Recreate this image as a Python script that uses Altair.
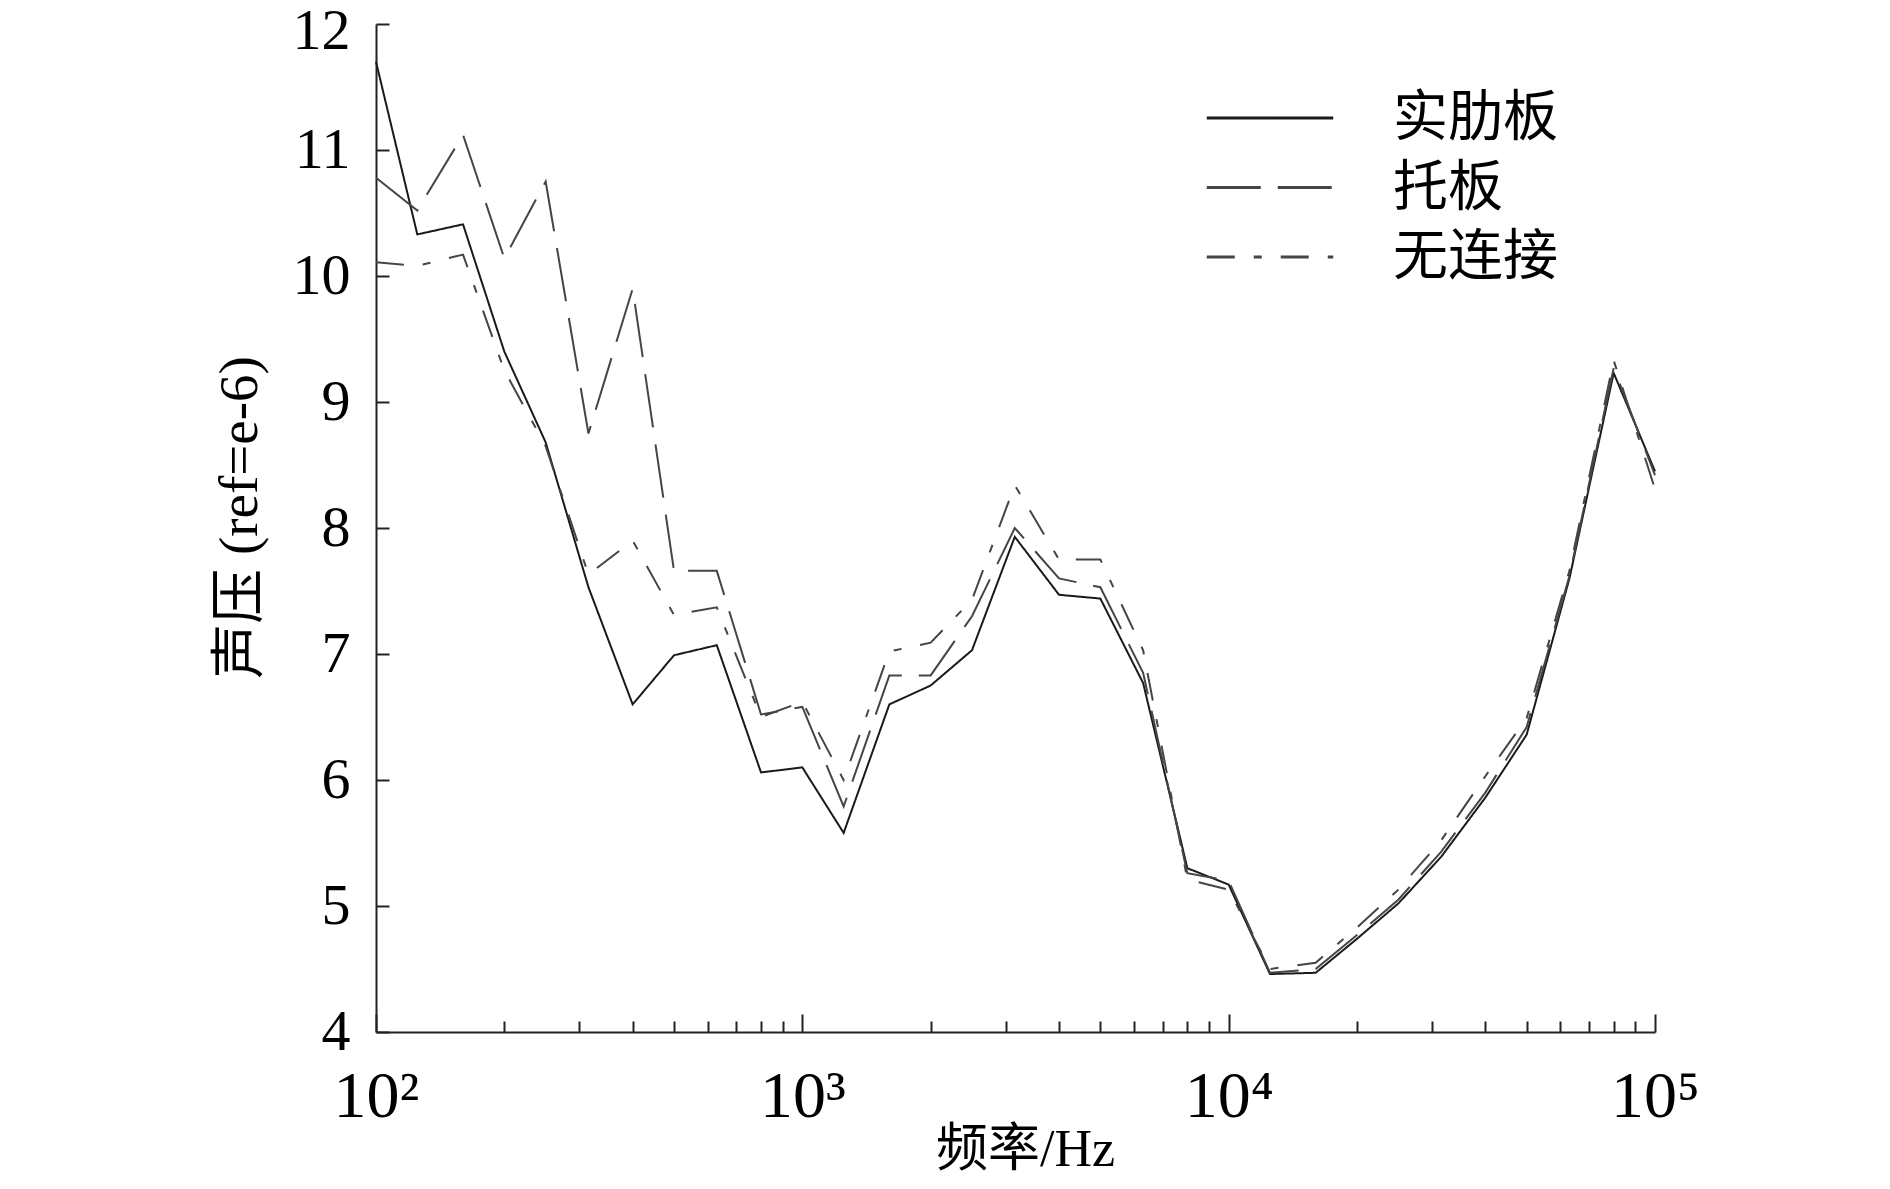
import altair as alt
import pandas as pd

# ---- data ----
freq = [100, 125, 160, 200, 250, 315, 400, 500, 630, 800, 1000, 1250, 1600, 2000,
        2500, 3150, 4000, 5000, 6300, 8000, 10000, 12500, 16000, 20000, 25000,
        31500, 40000, 50000, 63000, 80000, 100000]

solid_rib = [11.70, 10.33, 10.41, 9.40, 8.68, 7.53, 6.60, 6.99, 7.07, 6.06, 6.10,
             5.58, 6.60, 6.75, 7.03, 7.93, 7.47, 7.44, 6.77, 5.30, 5.17, 4.46,
             4.47, 4.74, 5.02, 5.39, 5.86, 6.36, 7.60, 9.23, 8.45]

bracket = [10.78, 10.52, 11.12, 10.14, 10.75, 8.75, 9.90, 7.66, 7.66, 6.52, 6.58,
           5.79, 6.83, 6.83, 7.30, 8.00, 7.60, 7.53, 6.85, 5.26, 5.20, 4.47,
           4.50, 4.77, 5.05, 5.43, 5.90, 6.42, 7.62, 9.27, 8.42]

no_conn = [10.11, 10.08, 10.17, 9.25, 8.65, 7.63, 7.90, 7.31, 7.37, 6.50, 6.62,
           6.00, 7.02, 7.09, 7.43, 8.34, 7.75, 7.75, 7.03, 5.21, 5.13, 4.50,
           4.55, 4.83, 5.13, 5.52, 6.03, 6.49, 7.66, 9.33, 8.31]

series_names = ["实肋板", "托板", "无连接"]
y_ticks = [4, 5, 6, 7, 8, 9, 10, 11, 12]
x_major = [100, 1000, 10000, 100000]
x_ticks = [d * k for d in [100, 1000, 10000] for k in range(1, 10)] + [100000]

rows = []
for name, vals in zip(series_names, [solid_rib, bracket, no_conn]):
    for f, v in zip(freq, vals):
        rows.append({"freq": f, "value": v, "series": name})
df = pd.DataFrame(rows)

# ---- style ----
W, H = 1279, 1008
SERIF = "Liberation Serif, Noto Sans CJK SC"
MAJ, MIN, YT = 18, 11, 13
major_test = " || ".join(f"datum.value == {m}" for m in x_major)

x_axis = alt.Axis(
    values=x_ticks,
    labelExpr=("datum.value == 100 ? '10²' : datum.value == 1000 ? '10³' : "
               "datum.value == 10000 ? '10⁴' : datum.value == 100000 ? '10⁵' : ''"),
    labelOverlap=False, labelFlush=False, labelBound=False,
    labelFont=SERIF, labelFontSize=66, labelColor="black",
    labelPadding=32, labelBaseline="top",
    ticks=False, tickSize=0,
    grid=True, gridColor="#222", gridWidth=2, gridOpacity=1,
    gridDash={"condition": {"test": major_test, "value": [0, H - MAJ, MAJ, 5000]},
              "value": [0, H - MIN, MIN, 5000]},
    domainColor="#222", domainWidth=2,
    title="频率/Hz", titleFont=SERIF, titleFontSize=52, titleFontWeight="normal",
    titleColor="black", titleX=649, titleY=133, titleAlign="center",
    titleBaseline="alphabetic",
)

y_axis = alt.Axis(
    values=y_ticks,
    labelFont=SERIF, labelFontSize=58, labelColor="black", labelPadding=26,
    labelBaseline="middle",
    labelOffset={"condition": {"test": "datum.value == 12", "value": 7}, "value": 0},
    ticks=False, tickSize=0,
    grid=True, gridColor="#222", gridWidth=2, gridOpacity=1, gridDash=[YT, 5000],
    domainColor="#222", domainWidth=2,
    title="声压 (ref=e-6)", titleFont=SERIF, titleFontSize=55,
    titleFontWeight="normal", titleColor="black", titleAngle=270,
    titleX=-137, titleY=493, titleAlign="center", titleBaseline="middle",
)

# long horizontal legend line drawn as a custom symbol path
legend = alt.Legend(
    title=None, orient="none", legendX=865, legendY=65, padding=0,
    symbolType="M-2.3,0H2.3", symbolSize=3025, symbolStrokeWidth=3,
    symbolFillColor="transparent",
    labelFont=SERIF, labelFontSize=55, labelColor="black", labelOffset=94,
    labelLimit=0, rowPadding=12.5,
)

chart = alt.Chart(df).mark_line(strokeWidth=2).encode(
    x=alt.X("freq:Q", scale=alt.Scale(type="log", domain=[100, 100000], nice=False),
            axis=x_axis),
    y=alt.Y("value:Q", scale=alt.Scale(domain=[4, 12], nice=False, zero=False),
            axis=y_axis),
    color=alt.Color("series:N",
                    scale=alt.Scale(domain=series_names,
                                    range=["#1a1a1a", "#454545", "#454545"]),
                    legend=legend),
    strokeDash=alt.StrokeDash("series:N",
                              scale=alt.Scale(domain=series_names,
                                              range=[[1, 0], [54, 17], [28, 19, 8, 19]]),
                              legend=legend),
).properties(
    width=W, height=H,
    padding={"left": 368, "top": 16, "right": 200, "bottom": 144},
    autosize=alt.AutoSizeParams(type="none"),
    background="white",
).configure_view(stroke=None)

chart.save("out.html", embed_options={"renderer": "svg", "actions": False})
